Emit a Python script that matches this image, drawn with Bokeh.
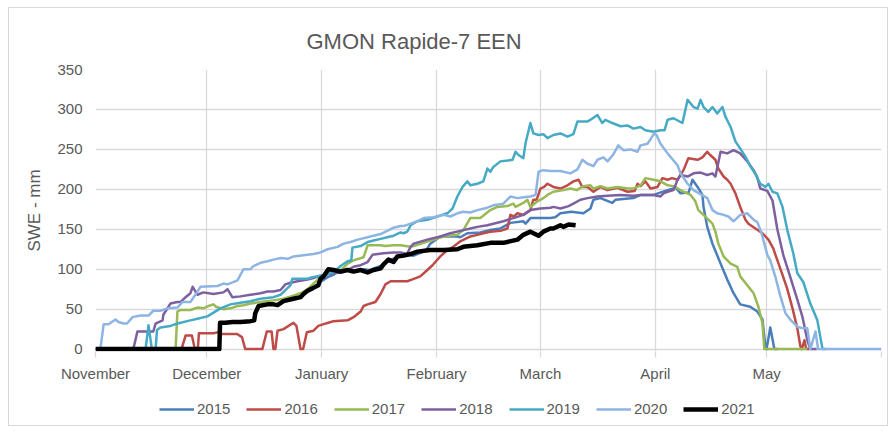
from bokeh.plotting import figure
from bokeh.layouts import column
from bokeh.models import Legend, LegendItem, FixedTicker, Title, Range1d, InlineStyleSheet
from bokeh.embed import file_html
from bokeh.resources import INLINE

# ---- axis definitions (days since Nov 1) ----
month_ticks = [0, 30, 61, 92, 120, 151, 181, 212]
month_labels = ["November", "December", "January", "February", "March", "April", "May", ""]
y_ticks = [0, 50, 100, 150, 200, 250, 300, 350]

# ---- series (day since Nov 1, SWE mm) ----
d2015 = [61.0, 62.6, 64.2, 65.5, 66.5, 68.5, 70, 72.3, 74, 76.9, 77.7, 79, 81.4, 82.3, 84.1, 85.8, 88.5, 89.5,
         90.3, 93, 97.6, 98.4, 100.3, 103.8, 106.5, 109.2, 110, 111.9, 115.4, 116, 117.3, 122.7, 124, 125.4,
         128.3, 131.6, 133.5, 134.3, 136.2, 139.4, 140.3, 145.1, 147, 150.5, 154.3, 156.5, 157.8, 160, 161,
         162.4, 163.7, 164, 165, 166.4, 168.6, 170.4, 172.1, 173.9, 176.6, 178.5, 179.9, 180.7, 181, 182,
         183.1, 184]
v2015 = [85, 90, 93, 98, 96, 99, 98, 100, 99, 104, 107, 111, 115, 116, 118, 117, 122, 126,
         132, 141, 141, 140, 145, 146, 149, 151, 153, 158, 160, 157, 164, 164, 165, 170,
         172, 170, 176, 187, 189, 183, 187, 189, 193, 193, 199, 202, 195, 196, 212,
         203, 193, 178, 153, 132, 107, 87, 70, 56, 53, 47, 37, 2, 0, 27,
         0, 0]

d2016 = [0, 23.2, 24.3, 26, 26.8, 27.6, 27.9, 32, 33, 34, 38.2, 39.5, 40.4, 45, 46.2, 47.5, 48, 48.5, 49.1,
         50.7, 53.4, 54.2, 55.3, 56, 57, 58.8, 60.1, 61.3, 62.8, 64.2, 68, 69.6, 71.5, 72.3, 73.4, 75.5, 76.9,
         78.2, 79.6, 84.1, 85.3, 87.6, 89.5, 90.9, 93, 94.9, 96.5, 98.4, 101.1, 103, 104.6, 106.5, 109.2,
         111.1, 111.9, 112.8, 113.8, 115.4, 117.3, 118.1, 119, 120, 121, 121.9, 123.5, 125.4, 127.3, 128.9,
         130.3, 131.3, 132.7, 134.3, 136.2, 138.1, 140.8, 143.5, 145.4, 146.2, 147, 148.3, 149.7, 151.6,
         152.9, 154.3, 155.5, 157, 158.6, 159.9, 162.4, 163.7, 165, 165.8, 167.2, 168, 169.4, 170.4, 171.3,
         172.6, 173.9, 175.3, 176.1, 178, 179.9, 181.5, 182.8, 183.4, 185.3, 186.6, 188, 189.3, 190.1,
         190.5, 191.2, 191.7, 192.5]
v2016 = [0, 0, 17, 17, 0, 0, 20, 20, 21, 19, 19, 15, 0, 0, 22, 22, 0, 0, 23,
         25, 33, 29, 0, 0, 21, 23, 29, 31, 33, 35, 36, 40, 47, 54, 56, 59, 69,
         81, 85, 85, 87, 91, 99, 105, 116, 124, 128, 135, 141, 143, 145, 147, 148,
         151, 168, 166, 170, 168, 174, 187, 187, 201, 203, 207, 203, 201, 205, 210,
         212, 203, 203, 197, 203, 199, 202, 197, 198, 207, 204, 210, 201, 203,
         214, 212, 214, 212, 224, 239, 237, 240, 247, 243, 237, 226, 216, 212, 207,
         195, 178, 162, 157, 151, 145, 137, 126, 118, 93, 75, 51, 26, 4,
         0, 11, 0, 0]

d2017 = [0, 21.6, 22.1, 22.9, 25.6, 27.5, 29.1, 30.5, 31.8, 32.5, 34.5, 36.4, 38.3, 39.9, 41.8, 44.5, 48,
         50.7, 53.4, 55.8, 57.2, 58.8, 60.7, 62.6, 65.3, 66.9, 68, 69.6, 72.3, 73.4, 76.9, 78.2, 80.4, 82.3,
         85, 85.8, 88.5, 91.2, 93.9, 97.6, 99.2, 101.1, 103.8, 106.5, 108.4, 111.1, 112.7, 113.3, 115.4,
         116.5, 117.3, 119.2, 120.8, 121.9, 123.5, 126.2, 128.1, 129.8, 131.6, 133.5, 134.3, 136.2, 138.1,
         140.8, 143.5, 145.1, 147, 148.3, 150.5, 152.4, 154.3, 155.9, 158.6, 160.5, 161.8, 162.6, 164,
         165.3, 166.4, 167.2, 168, 169.4, 171.3, 173.1, 173.9, 175.8, 177.5, 178.8, 179.9, 180.4, 192]
v2017 = [0, 0, 47, 49, 49, 52, 51, 54, 56, 53, 50, 51, 54, 55, 57, 59, 61,
         63, 67, 71, 75, 82, 90, 94, 96, 102, 107, 111, 115, 130, 130, 129, 130, 130,
         128, 129, 133, 137, 141, 143, 149, 164, 164, 174, 178, 179, 182, 178, 183,
         187, 178, 185, 189, 193, 197, 199, 201, 199, 204, 205, 201, 204, 201,
         203, 201, 201, 205, 214, 212, 210, 205, 204, 197, 193, 185, 174, 168,
         162, 157, 147, 132, 116, 107, 103, 91, 80, 70, 53, 32, 0, 0]

d2018 = [0, 10.2, 11.3, 15.6, 16.2, 18.1, 18.3, 20.2, 22.1, 23, 24.3, 25.6, 26.2, 27.5, 29.1, 31.8, 34.5,
         35.6, 36.9, 39.1, 41.8, 44.5, 46.4, 48, 49.9, 51.2, 52.6, 54.5, 57.2, 58.8, 60.7, 62.8, 66.1, 68,
         69.6, 71.5, 73.4, 74.7, 77.7, 80.4, 82.3, 84, 85, 85.8, 89.5, 93, 95.7, 98.4, 101.1, 103, 105.7,
         107.3, 110, 112.7, 115.4, 117.3, 120, 122.7, 123.5, 125.4, 127.6, 128.9, 130.8, 132.7, 135.4,
         138.1, 141.6, 145.1, 147, 150.5, 152.4, 153.2, 154.3, 155.9, 157, 157.8, 159.7, 161.3, 163.2, 165,
         166.4, 167.2, 168.6, 170.4, 172.1, 173.9, 175.8, 177.5, 178.5, 179.3, 181.2, 182.6, 183.9, 185.5,
         187.4, 189.3, 190.7, 192, 192.8, 194.5]
v2018 = [0, 0, 22, 22, 32, 36, 43, 57, 59, 59, 65, 70, 78, 68, 71, 69, 71,
         75, 65, 66, 68, 70, 72, 72, 74, 81, 83, 85, 87, 89, 92, 94, 96, 99,
         103, 105, 109, 118, 120, 121, 121, 119, 128, 132, 137, 141, 145, 148, 151, 153, 155,
         157, 160, 164, 168, 174, 176, 177, 178, 176, 179, 182, 187, 189, 191,
         192, 193, 192, 193, 193, 191, 195, 197, 199, 212, 218, 216, 220, 221, 218,
         220, 216, 247, 245, 249, 245, 235, 224, 215, 201, 198, 186, 150, 118,
         90, 62, 40, 11, 0, 0]

d2019 = [0, 13.5, 14.3, 15.2, 16.2, 16.6, 17.5, 20.2, 22.1, 25.6, 27.5, 30.2, 33.7, 36.4, 39.1, 41.8,
         44.5, 48, 49.9, 52.6, 53.1, 57.2, 58.5, 60.7, 62.6, 64.2, 66.1, 68, 69, 69.3, 71.5, 73.4, 75,
         76.9, 78.7, 80.4, 82.3, 83.1, 84.1, 85, 86.8, 89.5, 92.2, 94.9, 96.3, 97.6, 99, 100.3, 101.1, 103,
         104.6, 105.7, 106.5, 107.3, 109.2, 111.1, 112.5, 113.3, 114.1, 115.4, 116, 117.3, 118.1, 119.5,
         120.8, 121.9, 123.5, 125.4, 127.3, 128.9, 130, 132.7, 133.5, 135.4, 136.7, 137.5, 139.4, 141.6,
         143.5, 145.1, 147, 148.3, 150.5, 152.4, 153.5, 154.3, 155.9, 158.3, 159.7, 161.3, 162.4, 163.2,
         164, 165.3, 166.4, 167.7, 169.1, 169.9, 171.3, 172.6, 173.9, 175.3, 176.6, 178, 179.3, 180.7,
         181.5, 182.6, 183.9, 185.3, 186.6, 188.2, 189.3, 190.9, 192.8, 194.7, 195.5, 196.1, 197]
v2019 = [0, 0, 30, 0, 0, 24, 27, 29, 32, 36, 38, 41, 51, 56, 58, 60,
         63, 65, 68, 80, 88, 88, 90, 92, 94, 96, 104, 110, 111, 127, 129, 134, 136,
         138, 140, 142, 146, 145, 147, 155, 160, 162, 166, 170, 176, 191, 203, 210, 205, 207,
         210, 226, 222, 228, 235, 236, 237, 247, 243, 239, 258, 283, 270, 268,
         269, 264, 268, 270, 266, 269, 285, 285, 287, 293, 283, 287, 283, 279,
         280, 276, 278, 274, 272, 274, 274, 287, 289, 283, 312, 303, 301, 312,
         303, 297, 303, 295, 303, 291, 278, 260, 251, 241, 229, 219, 207, 203,
         207, 197, 195, 178, 149, 120, 95, 84, 57, 36, 15, 0, 0]

d2020 = [0, 1.3, 2.2, 3.5, 5.4, 6.2, 7.6, 8.5, 10, 12.1, 14.3, 15.6, 17.5, 19.4, 22.1, 23.5, 25.6, 27.5,
         28.3, 32.9, 34.5, 35.6, 38.3, 39.9, 41.8, 42.6, 44.5, 46.4, 48, 49.9, 51.9, 53.4, 56.1, 58.8, 60.7,
         62.6, 65.3, 66.9, 68.8, 70.7, 73.4, 75, 76.9, 78.7, 80.4, 82.3, 83.1, 85, 86.8, 88.5, 91.2, 93.9,
         95.7, 97.6, 99.2, 101.1, 103, 105.7, 107.3, 110, 111.9, 113.8, 115.4, 117.3, 118.7, 119.5, 120.8,
         122.7, 125.4, 128.1, 130, 131.3, 132.7, 134.3, 135.4, 137, 138.1, 139.7, 141, 142.4, 144.3, 146.2,
         147, 148.9, 150.7, 151.3, 152.4, 154.3, 155.9, 157, 157.8, 159.7, 161.3, 163.2, 165, 166.4, 167.7,
         169.4, 170.7, 172.1, 173.9, 175.8, 177.5, 178.5, 179.6, 181.2, 182, 183.4, 184.7, 186.1, 187.4,
         189.3, 190.9, 192, 192.8, 194.2, 194.9, 212]
v2020 = [0, 0, 31, 31, 37, 34, 32, 32, 40, 42, 42, 48, 48, 51, 52, 59, 59, 72,
         78, 79, 82, 81, 86, 100, 100, 104, 108, 110, 112, 114, 113, 116, 117.5, 119, 121,
         125, 128, 132, 134, 137, 140, 142, 144, 148, 152, 154, 154, 157, 160, 164, 165, 168,
         166, 170, 172, 171, 174, 177, 180, 182, 191, 189, 190, 191, 193, 222, 224,
         223, 223, 220, 225, 237, 232, 229, 237, 240, 235, 244, 255, 249, 250, 247,
         255, 257, 270, 268, 257, 245, 236, 230, 220, 207, 199, 194, 189, 174, 170,
         168, 166, 160, 168, 170, 162, 159, 146, 118, 111, 90, 67, 45, 37,
         28, 26, 26, 0, 22, 0, 0]

d2021 = [0, 33.4, 33.6, 35, 37, 39.1, 41.8, 42.8, 43.1, 44, 46.4, 48, 49.1, 50.7, 53.4, 55.3, 56.1, 57.2,
         58.5, 60.1, 60.7, 61.5, 62.8, 64.2, 66.1, 68, 69.6, 71.5, 73.4, 75, 76.9, 77.7, 79, 80.4, 81.4,
         83.1, 85, 86.8, 90.3, 94, 97.6, 99.2, 103, 106.5, 110, 113.8, 115.4, 117.3, 119.5, 120.8, 122.7,
         123.5, 125.4, 126.2, 127.6, 129.5]
v2021 = [0, 0, 33, 33, 34, 34, 35, 36, 45, 54, 56, 56, 55, 60, 63, 65, 69, 73,
         76, 80, 88, 91, 100, 99, 97, 99, 97, 99, 96, 99, 101, 106, 112, 109, 116,
         117, 119, 122, 124, 124, 125, 128, 130, 133, 133, 137, 143, 147, 142, 147, 151,
         151, 155, 153, 156, 155]

years = ["2015", "2016", "2017", "2018", "2019", "2020", "2021"]
colors = ["#4a7ebb", "#be4b48", "#98b954", "#7d60a0", "#46aac5", "#8eb4e3", "#000000"]
widths = [2.5, 2.5, 2.5, 2.5, 2.5, 2.5, 4.5]
series_days = [d2015, d2016, d2017, d2018, d2019, d2020, d2021]
series_vals = [v2015, v2016, v2017, v2018, v2019, v2020, v2021]

TXT = "#595959"
GRID = "#d9d9d9"
FONT = "Liberation Sans"

# ---------------- main chart ----------------
p = figure(width=878, height=384, output_backend="svg", toolbar_location=None, title=None,
           x_range=Range1d(0, 212), y_range=Range1d(-3, 350),
           min_border_left=86, min_border_right=6, min_border_top=61, min_border_bottom=41)
p.outline_line_color = None

p.xaxis.ticker = FixedTicker(ticks=month_ticks)
p.xaxis.major_label_overrides = {t: l for t, l in zip(month_ticks, month_labels)}
p.yaxis.ticker = FixedTicker(ticks=y_ticks)

for ax in (p.xaxis[0], p.yaxis[0]):
    ax.axis_line_color = None
    ax.minor_tick_line_color = None
    ax.major_label_text_color = TXT
    ax.major_label_text_font = FONT
    ax.major_label_text_font_size = "15px"

p.xaxis.major_tick_in = 0
p.xaxis.major_tick_out = 6
p.xaxis.major_tick_line_color = GRID
p.xaxis.major_tick_line_width = 1.3
p.xaxis.major_label_standoff = 7

p.yaxis.major_tick_line_color = None
p.yaxis.major_tick_in = 0
p.yaxis.major_tick_out = 0
p.yaxis.major_label_standoff = 13
p.yaxis.axis_label = "SWE - mm"
p.yaxis.axis_label_text_font = FONT
p.yaxis.axis_label_text_font_style = "normal"
p.yaxis.axis_label_text_font_size = "17px"
p.yaxis.axis_label_text_color = TXT
p.yaxis.axis_label_standoff = 10

p.xgrid.grid_line_color = GRID
p.xgrid.grid_line_width = 1.3
p.ygrid.grid_line_color = GRID
p.ygrid.grid_line_width = 1.3

for c, w, dd, vv in zip(colors, widths, series_days, series_vals):
    p.line(x=dd, y=vv, line_color=c, line_width=w, line_join="round")

title = Title(text="GMON Rapide-7 EEN", align="left", offset=211, standoff=32,
              text_color=TXT, text_font=FONT, text_font_size="22px",
              text_font_style="normal")
p.add_layout(title, "above")

# ---------------- legend strip (same series, kept out of view) ----------------
leg = figure(width=878, height=33, output_backend="svg", toolbar_location=None, title=None,
             x_range=Range1d(0, 212), y_range=Range1d(1000, 1001),
             min_border=0, min_border_left=0, min_border_right=0,
             min_border_top=0, min_border_bottom=0)
leg.axis.visible = False
leg.grid.visible = False
leg.outline_line_color = None

items = []
for yr, c, w, dd, vv in zip(years, colors, widths, series_days, series_vals):
    r = leg.line(x=dd, y=vv, line_color=c, line_width=w)
    items.append(LegendItem(label=yr, renderers=[r]))

legend = Legend(items=items, orientation="horizontal", location=(64, 8),
                glyph_width=35, glyph_height=16, label_standoff=3, spacing=16,
                padding=0, margin=0, border_line_color=None, background_fill_alpha=0,
                label_text_font=FONT, label_text_font_size="15px",
                label_text_color=TXT)
leg.add_layout(legend)

frame_css = InlineStyleSheet(css=":host { border: 1px solid #d9d9d9; margin: 7px 0 0 8px; }")
layout = column(p, leg, spacing=0, stylesheets=[frame_css])

open("out.html", "w").write(file_html(layout, INLINE))
